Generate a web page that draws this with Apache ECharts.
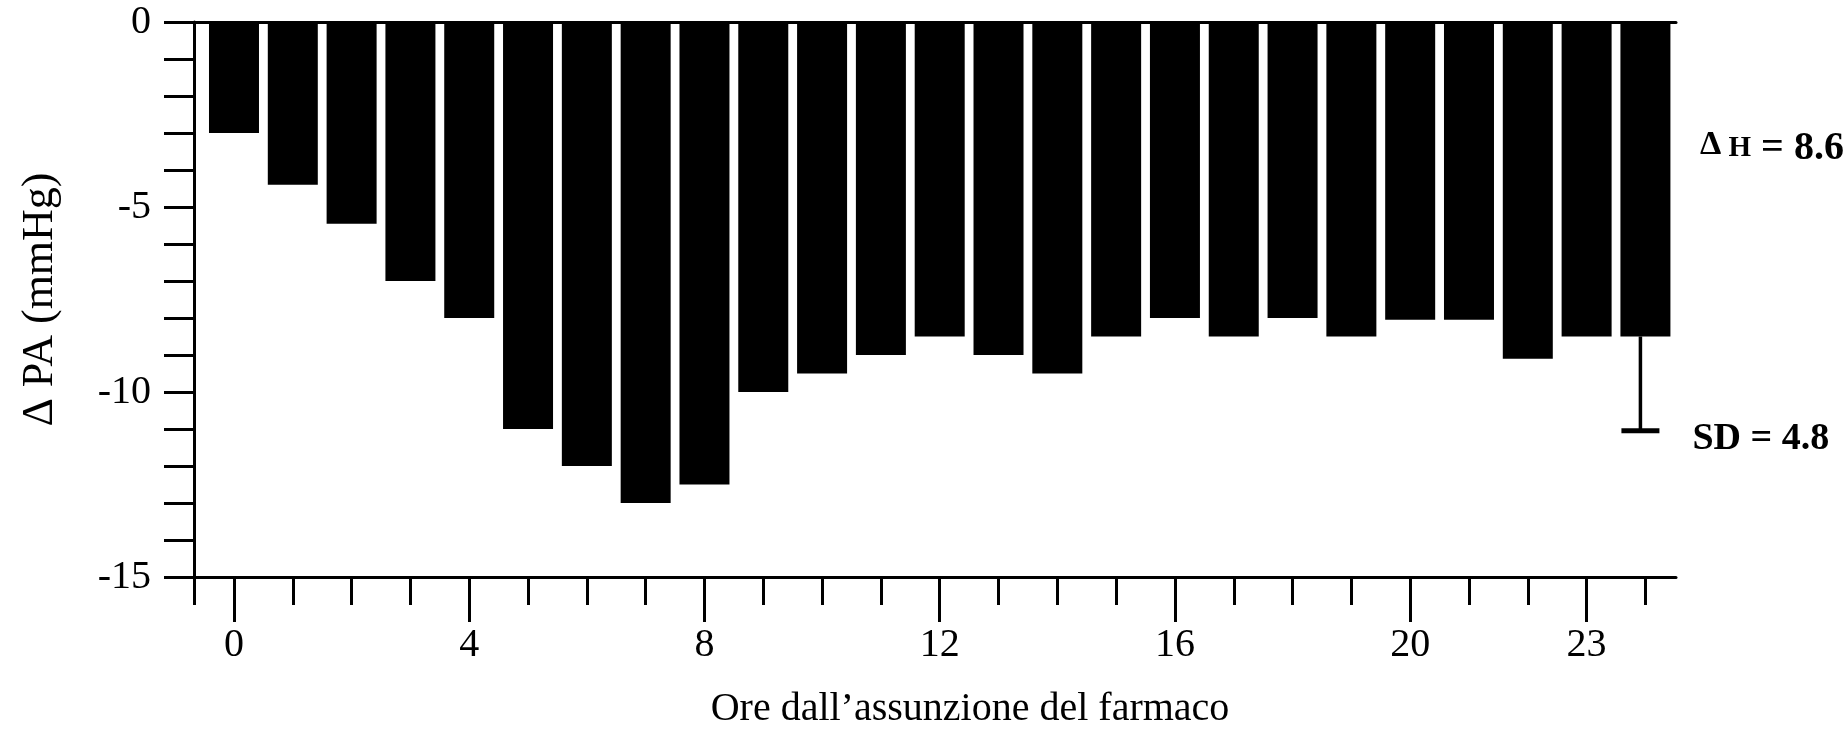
<!DOCTYPE html>
<html>
<head>
<meta charset="utf-8">
<script src="https://cdn.jsdelivr.net/npm/echarts@6/dist/echarts.min.js"></script>
<style>
  html, body { margin: 0; padding: 0; background: #fff; }
  #chart { width: 1847px; height: 738px; }
</style>
</head>
<body>
<div id="chart"></div>
<script>
// ---- data ----
const hours = [0,1,2,3,4,5,6,7,8,9,10,11,12,13,14,15,16,17,18,19,20,21,22,23,24];
const deltaPA = [-3.0,-4.4,-5.45,-7.0,-8.0,-11.0,-12.0,-13.0,-12.5,-10.0,-9.5,-9.0,-8.5,-9.0,-9.5,-8.5,-8.0,-8.5,-8.0,-8.5,-8.05,-8.05,-9.1,-8.5,-8.5];
const xLabelHours = [0,4,8,12,16,20,23];
const yLabelValues = [-15,-10,-5,0];
const errorBar = [[24, -8.5, -11.05]]; // [hour, bar value, whisker end]
const sdText = 'SD = 4.8';
const meanText = { delta: 'Δ', sub: 'H', rest: '= 8.6' };
const xTitle = 'Ore dall\u2019assunzione del farmaco';
const yTitle = 'Δ PA (mmHg)';

const X_MIN = -0.68, X_MAX = 24.52;
const FONT = 'Liberation Serif';

const chart = echarts.init(document.getElementById('chart'), null, { renderer: 'canvas' });

const axisBase = { type: 'value', min: X_MIN, max: X_MAX, splitLine: { show: false } };

const option = {
  animation: false,
  backgroundColor: '#ffffff',
  grid: { left: 194, right: 171, top: 22, bottom: 161, containLabel: false },
  xAxis: [
    Object.assign({}, axisBase, {
      position: 'bottom',
      axisLine: { show: true, onZero: false, lineStyle: { color: '#000', width: 3 } },
      axisTick: { show: true, length: 28, lineStyle: { color: '#000', width: 3 },
                  customValues: [X_MIN].concat(hours) },
      axisLabel: { show: false }
    }),
    Object.assign({}, axisBase, {
      position: 'bottom',
      axisLine: { show: false, onZero: false },
      axisTick: { show: true, length: 45, lineStyle: { color: '#000', width: 3 },
                  customValues: xLabelHours },
      axisLabel: { show: true, customValues: xLabelHours, margin: 48,
                   fontFamily: FONT, fontSize: 40, color: '#000' },
      name: xTitle, nameLocation: 'middle', nameGap: 112,
      nameTextStyle: { fontFamily: FONT, fontSize: 40, color: '#000', padding: [0, 0, 0, 70] }
    }),
    Object.assign({}, axisBase, {
      position: 'top',
      axisLine: { show: true, onZero: false, lineStyle: { color: '#000', width: 3 } },
      axisTick: { show: false },
      axisLabel: { show: false }
    })
  ],
  yAxis: {
    type: 'value', min: -15, max: 0, interval: 1,
    splitLine: { show: false },
    axisLine: { show: true, onZero: false, lineStyle: { color: '#000', width: 3 } },
    axisTick: { show: true, length: 30, lineStyle: { color: '#000', width: 3 } },
    axisLabel: { customValues: yLabelValues, margin: 43, fontFamily: FONT, fontSize: 40, color: '#000' },
    name: yTitle, nameLocation: 'middle', nameGap: 132,
    nameTextStyle: { fontFamily: FONT, fontSize: 44, color: '#000' }
  },
  series: [
    {
      type: 'bar',
      xAxisIndex: 0,
      barWidth: 50,
      itemStyle: { color: '#000' },
      data: hours.map((h, i) => [h, deltaPA[i]])
    },
    {
      type: 'custom',
      xAxisIndex: 0,
      data: errorBar,
      renderItem: function (params, api) {
        const top = api.coord([api.value(0), api.value(1)]);
        const low = api.coord([api.value(0), api.value(2)]);
        const x = top[0] - 5;
        return {
          type: 'group',
          children: [
            { type: 'line', shape: { x1: x, y1: top[1], x2: x, y2: low[1] },
              style: { stroke: '#000', lineWidth: 3.5 } },
            { type: 'line', shape: { x1: x - 19, y1: low[1], x2: x + 19, y2: low[1] },
              style: { stroke: '#000', lineWidth: 5 } },
            { type: 'text', x: x + 52, y: low[1] + 8,
              style: { text: sdText, fontFamily: FONT, fontSize: 38, fontWeight: 'bold',
                       fill: '#000', align: 'left', verticalAlign: 'middle' } }
          ]
        };
      },
      z: 5
    }
  ],
  graphic: [
    {
      type: 'text', left: 1700, top: 128,
      style: {
        text: '{d|' + meanText.delta + '}{h| ' + meanText.sub + '}{n| ' + meanText.rest + '}',
        fill: '#000',
        rich: {
          d: { fontFamily: FONT, fontSize: 34, fontWeight: 'bold', padding: [0, 0, 8, 0], fill: '#000' },
          h: { fontFamily: FONT, fontSize: 29, fontWeight: 'bold', fill: '#000' },
          n: { fontFamily: FONT, fontSize: 40, fontWeight: 'bold', fill: '#000' }
        }
      }
    }
  ]
};

chart.setOption(option);
</script>
</body>
</html>
